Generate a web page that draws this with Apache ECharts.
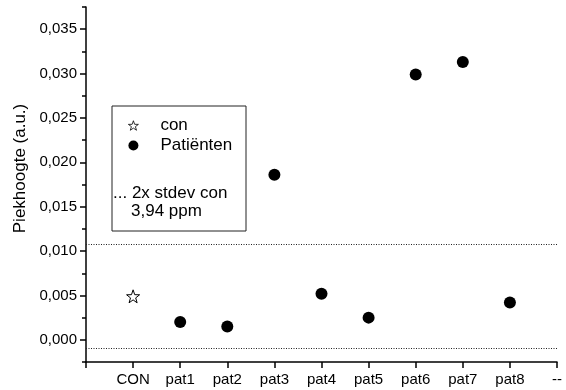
<!DOCTYPE html>
<html>
<head>
<meta charset="utf-8">
<script src="https://cdn.jsdelivr.net/npm/echarts@6/dist/echarts.min.js"></script>
<style>
  html, body { margin: 0; padding: 0; background: #fff; }
  #chart { width: 566px; height: 390px; }
</style>
</head>
<body>
<div id="chart"></div>
<script>
// Tick labels along the x axis (position 0 is left blank)
const xTickLabels = ['', 'CON', 'pat1', 'pat2', 'pat3', 'pat4', 'pat5', 'pat6', 'pat7', 'pat8', '--'];
// Labelled y ticks
const yTicks = [0.000, 0.005, 0.010, 0.015, 0.020, 0.025, 0.030, 0.035];

// Control measurement
const conCategories = ['CON'];
const conValues = [0.0049];

// Patient measurements
const patCategories = ['pat1', 'pat2', 'pat3', 'pat4', 'pat5', 'pat6', 'pat7', 'pat8'];
const patValues = [0.0020, 0.0015, 0.0186, 0.0052, 0.0025, 0.0299, 0.0313, 0.0042];

// 2x stdev band of the control (upper, lower)
const stdevBounds = [0.0108, -0.0010];

const font = "'Liberation Sans', Arial, sans-serif";
const starPath = 'path://M50 0 L61.76 33.82 L97.55 34.55 L69.02 56.18 L79.39 90.45 L50 70 L20.61 90.45 L30.98 56.18 L2.45 34.55 L38.24 33.82 Z';

const toPoints = (cats, vals) => cats.map((c, i) => [xTickLabels.indexOf(c), vals[i]]);
const fmt = v => v.toFixed(3).replace('.', ',');

const chart = echarts.init(document.getElementById('chart'));
chart.setOption({
  animation: false,
  backgroundColor: '#fff',
  textStyle: { fontFamily: font, color: '#000' },
  grid: { left: 86, right: 9, top: 7, bottom: 28, containLabel: false },
  xAxis: {
    type: 'value',
    min: 0,
    max: 10,
    interval: 1,
    splitLine: { show: false },
    axisLine: { onZero: false, lineStyle: { color: '#000', width: 1.5 } },
    axisTick: { inside: false, length: 6, lineStyle: { color: '#000', width: 1.5 } },
    axisLabel: {
      margin: 10,
      fontSize: 15,
      color: '#000',
      fontFamily: font,
      formatter: v => xTickLabels[Math.round(v)] || ''
    }
  },
  yAxis: [
    {
      type: 'value',
      position: 'left',
      min: -0.0025,
      max: 0.0375,
      name: 'Piekhoogte (a.u.)',
      nameLocation: 'middle',
      nameGap: 50,
      nameRotate: 90,
      nameTextStyle: { fontSize: 17, color: '#000', fontFamily: font, padding: [0, 0, 0, 32] },
      splitLine: { show: false },
      axisLine: { show: true, onZero: false, lineStyle: { color: '#000', width: 1.5 } },
      axisTick: { show: true, inside: false, length: 6, customValues: yTicks, lineStyle: { color: '#000', width: 1.5 } },
      axisLabel: { margin: 9, fontSize: 15, color: '#000', fontFamily: font, customValues: yTicks, formatter: fmt }
    },
    {
      type: 'value',
      position: 'left',
      min: -0.0025,
      max: 0.0375,
      interval: 0.0025,
      splitLine: { show: false },
      axisLine: { show: false, onZero: false },
      axisTick: { show: true, inside: false, length: 4, lineStyle: { color: '#000', width: 1.5 } },
      axisLabel: { show: false }
    }
  ],
  legend: {
    orient: 'vertical',
    left: 128,
    top: 117,
    padding: 0,
    itemWidth: 10,
    itemHeight: 10,
    itemGap: 3,
    textStyle: { fontSize: 17, color: '#000', fontFamily: font, padding: [0, 0, 0, 17] },
    data: [
      { name: 'con', itemStyle: { color: '#fff', borderColor: '#000', borderWidth: 0.8 } },
      { name: 'Patiënten', itemStyle: { color: '#000' } }
    ]
  },
  series: [
    {
      name: 'con',
      type: 'scatter',
      symbol: starPath,
      symbolSize: 13,
      itemStyle: { color: '#fff', borderColor: '#000', borderWidth: 1, opacity: 1 },
      data: toPoints(conCategories, conValues),
      markLine: {
        silent: true,
        precision: 5,
        symbol: 'none',
        label: { show: false },
        lineStyle: { color: '#222', type: [1, 1.5], width: 1 },
        data: stdevBounds.map(v => ({ yAxis: v }))
      }
    },
    {
      name: 'Patiënten',
      type: 'scatter',
      symbol: 'circle',
      symbolSize: 12,
      itemStyle: { color: '#000', opacity: 1 },
      data: toPoints(patCategories, patValues)
    }
  ],
  graphic: [
    {
      type: 'rect',
      shape: { x: 112, y: 106, width: 134, height: 125 },
      style: { fill: 'none', stroke: '#222', lineWidth: 1 },
      z: 10
    },
    {
      type: 'text',
      x: 113, y: 193,
      style: { text: '... 2x stdev con', font: '17px ' + font, fill: '#000', verticalAlign: 'middle' },
      z: 10
    },
    {
      type: 'text',
      x: 131, y: 211,
      style: { text: '3,94 ppm', font: '17px ' + font, fill: '#000', verticalAlign: 'middle' },
      z: 10
    }
  ]
});
</script>
</body>
</html>
